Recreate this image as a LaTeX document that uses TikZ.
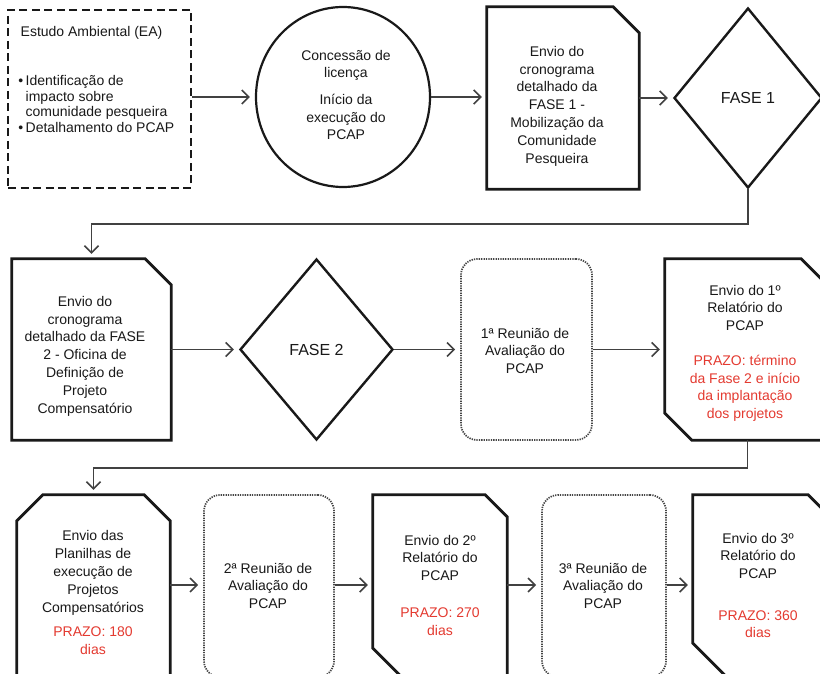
\documentclass[tikz,border=0pt]{standalone}
\usepackage{fontspec}
\setmainfont{Liberation Sans}
\usetikzlibrary{shapes.geometric,arrows.meta}
\definecolor{ink}{RGB}{25,25,25}
\definecolor{lineg}{RGB}{65,65,65}
\definecolor{dotg}{RGB}{70,70,70}
\definecolor{prazo}{RGB}{228,58,48}
\begin{document}
\begin{tikzpicture}[x=1pt,y=-1pt,
  boxline/.style={draw=ink, line width=2.8pt, line join=miter},
  shapebox/.style={rectangle, inner sep=0pt, draw=none},
  txt/.style={align=center, inner sep=0pt, text=ink, font=\fontsize{14}{17.5}\selectfont},
  flow/.style={draw=lineg, line width=1.6pt, -{Straight Barb[length=7pt,width=14pt]}, shorten >=5pt},
  dotbox/.style={rectangle, rounded corners=16pt, draw=dotg, line width=1.7pt, dash pattern=on 1.3pt off 1.1pt, inner sep=0pt},
  diam/.style={diamond, draw=ink, line width=2.4pt, inner sep=0pt, text=ink, font=\fontsize{16}{19}\selectfont},
  red/.style={text=prazo}
]
\useasboundingbox (0,0) rectangle (820,674);
\fill[white] (0,0) rectangle (820,674);

% ---------- top row ----------
\node[shapebox, draw=ink, line width=2.6pt, dash pattern=on 8pt off 4.5pt,
      minimum width=183pt, minimum height=178pt] (ea) at (99.5,99) {};
\node[txt, align=left, anchor=north west, font=\fontsize{14}{15.5}\selectfont] (eat) at (25.5,26.5)
  {\hspace*{-5pt}Estudo Ambiental (EA)\\[33.5pt]\llap{•\,}Identificação de\\impacto sobre\\comunidade pesqueira\\\llap{•\,}Detalhamento do PCAP};

\node[ellipse, draw=ink, line width=2.2pt, minimum width=174pt, minimum height=180pt, inner sep=0pt] (circ) at (343,97) {};
\node[txt] (circt) at (346,95) {Concessão de\\licença\\[9.5pt]Início da\\execução do\\PCAP};

\node[shapebox, minimum width=152pt, minimum height=182pt] (b3) at (563,98) {};
\draw[boxline] (b3.north west) -- ([xshift=-26pt]b3.north east) -- ([yshift=-26pt]b3.north east)
  -- (b3.south east) -- (b3.south west) -- cycle;
\node[txt, font=\fontsize{14}{17.8}\selectfont] (b3t) at (557,106)
  {Envio do\\cronograma\\detalhado da\\FASE 1 -\\Mobilização da\\Comunidade\\Pesqueira};

\node[diam, minimum width=148pt, minimum height=180pt] (d1) at (748,98) {FASE 1};

% ---------- middle row ----------
\node[shapebox, minimum width=159pt, minimum height=181pt] (b4) at (91.5,349.5) {};
\draw[boxline] (b4.north west) -- ([xshift=-26pt]b4.north east) -- ([yshift=-26pt]b4.north east)
  -- (b4.south east) -- (b4.south west) -- cycle;
\node[txt, font=\fontsize{14}{17.8}\selectfont] (b4t) at (85,356)
  {Envio do\\cronograma\\detalhado da FASE\\2 - Oficina de\\Definição de\\Projeto\\Compensatório};

\node[diam, minimum width=153pt, minimum height=181pt] (d2) at (316.5,349.5) {FASE 2};

\node[dotbox, minimum width=131pt, minimum height=181pt] (r1) at (526.5,349.5) {};
\node[txt] (r1t) at (525,350.5) {1ª Reunião de\\Avaliação do\\PCAP};

\node[shapebox, minimum width=161pt, minimum height=181pt] (b5) at (745.5,349.5) {};
\draw[boxline] (b5.north west) -- ([xshift=-25pt]b5.north east) -- ([yshift=-25pt]b5.north east)
  -- (b5.south east) -- ([xshift=27pt]b5.south west) -- ([yshift=27pt]b5.south west) -- cycle;
\node[txt] (b5t) at (745,353)
  {Envio do 1º\\Relatório do\\PCAP\\[18pt]\textcolor{prazo}{PRAZO: término}\\\textcolor{prazo}{da Fase 2 e início}\\\textcolor{prazo}{da implantação}\\\textcolor{prazo}{dos projetos}};

% ---------- bottom row ----------
\node[shapebox, minimum width=153pt, minimum height=182pt] (b6) at (93.5,586) {};
\draw[boxline] ([xshift=26pt]b6.north west) -- ([xshift=-26pt]b6.north east) -- ([yshift=-26pt]b6.north east)
  -- (b6.south east) -- (b6.south west) -- ([yshift=-26pt]b6.north west) -- cycle;
\node[txt, font=\fontsize{14}{18}\selectfont] (b6t) at (93,592.5)
  {Envio das\\Planilhas de\\execução de\\Projetos\\Compensatórios\\[6pt]\textcolor{prazo}{PRAZO: 180}\\\textcolor{prazo}{dias}};

\node[dotbox, minimum width=130pt, minimum height=182pt] (r2) at (269,586) {};
\node[txt] (r2t) at (268,585.5) {2ª Reunião de\\Avaliação do\\PCAP};

\node[shapebox, minimum width=134pt, minimum height=182pt] (b8) at (440,586) {};
\draw[boxline] (b8.north west) -- ([xshift=-22pt]b8.north east) -- ([yshift=-22pt]b8.north east)
  -- (b8.south east) -- ([xshift=29pt]b8.south west) -- ([yshift=29pt]b8.south west) -- cycle;
\node[txt] (b8t) at (440,585)
  {Envio do 2º\\Relatório do\\PCAP\\[20pt]\textcolor{prazo}{PRAZO: 270}\\\textcolor{prazo}{dias}};

\node[dotbox, minimum width=124pt, minimum height=182pt] (r3) at (604,586) {};
\node[txt] (r3t) at (603,585.5) {3ª Reunião de\\Avaliação do\\PCAP};

\node[shapebox, minimum width=141pt, minimum height=182pt] (b10) at (763.5,586) {};
\draw[boxline] (b10.north west) -- ([xshift=-26pt]b10.north east) -- ([yshift=-26pt]b10.north east)
  -- (b10.south east) -- ([xshift=34pt]b10.south west) -- ([yshift=34pt]b10.south west) -- cycle;
\node[txt] (b10t) at (758,585.5)
  {Envio do 3º\\Relatório do\\PCAP\\[24.5pt]\textcolor{prazo}{PRAZO: 360}\\\textcolor{prazo}{dias}};

% ---------- connectors ----------
\draw[flow] (ea.east |- circ.center) -- (circ.west);
\draw[flow] (circ.east) -- (b3.west |- circ.east);
\draw[flow] (b3.east |- d1.west) -- (d1.west);
\draw[flow] (d1.south) -- ++(0,35) -| (b4.north);
\draw[flow] (b4.east) -- (d2.west);
\draw[flow] (d2.east) -- (r1.west);
\draw[flow] (r1.east) -- (b5.west);
\draw[flow] ([xshift=2pt]b5.south) -- ++(0,28) -| (b6.north);
\draw[flow] ([yshift=1pt]b6.east) -- ([yshift=1pt]r2.west);
\draw[flow] ([yshift=1pt]r2.east) -- ([yshift=1pt]b8.west);
\draw[flow] ([yshift=1pt]b8.east) -- ([yshift=1pt]r3.west);
\draw[flow] ([yshift=1pt]r3.east) -- ([yshift=1pt]b10.west);
\end{tikzpicture}
\end{document}
